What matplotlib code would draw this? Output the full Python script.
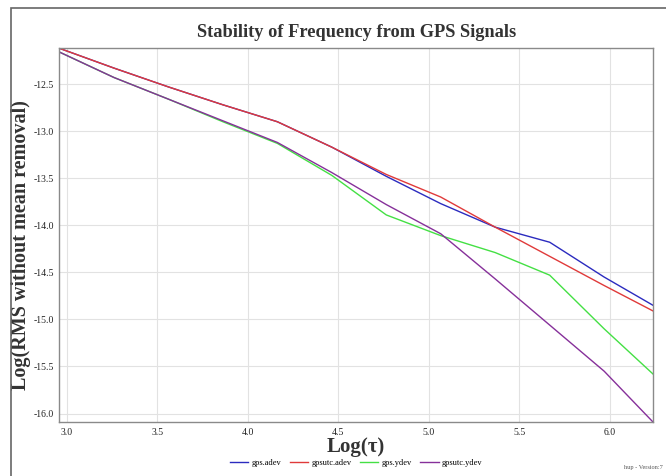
import matplotlib
matplotlib.use("Agg")
import matplotlib.pyplot as plt
from matplotlib.patches import Rectangle

plt.rcParams['font.family'] = ['Liberation Serif', 'DejaVu Serif']

# log10(tau)
log_tau = [2.96, 3.261, 3.562, 3.863, 4.164, 4.465, 4.766, 5.067, 5.368, 5.669, 5.97, 6.24]

gps_adev = [-12.12, -12.33, -12.53, -12.72, -12.90, -13.17, -13.48, -13.77, -14.02, -14.18, -14.55, -14.85]
gpsutc_adev = [-12.12, -12.33, -12.53, -12.72, -12.90, -13.17, -13.46, -13.70, -14.02, -14.33, -14.64, -14.91]
gps_ydev = [-12.16, -12.43, -12.66, -12.90, -13.13, -13.47, -13.89, -14.11, -14.29, -14.53, -15.10, -15.58]
gpsutc_ydev = [-12.16, -12.43, -12.66, -12.89, -13.12, -13.44, -13.78, -14.09, -14.57, -15.06, -15.55, -16.09]

series = [("gps.adev", gps_adev, "#2b2bbf"),
          ("gpsutc.adev", gpsutc_adev, "#e03a3a"),
          ("gps.ydev", gps_ydev, "#44e044"),
          ("gpsutc.ydev", gpsutc_ydev, "#86309a")]

xticks = [3.0, 3.5, 4.0, 4.5, 5.0, 5.5, 6.0]
yticks = [-12.5, -13.0, -13.5, -14.0, -14.5, -15.0, -15.5, -16.0]

fig = plt.figure(figsize=(6.66, 4.76), dpi=100)
ax = fig.add_axes([0.0893, 0.1134, 0.8912, 0.7851])

for name, vals, col in series:
    ax.plot(log_tau, vals, color=col, lw=1.0, label=name)

ax.set_xlim(min(log_tau), max(log_tau))
ax.set_ylim(min(gpsutc_ydev), max(gps_adev))
ax.set_xticks(xticks)
ax.set_yticks(yticks)
ax.set_xticklabels(["%.1f" % t for t in xticks])
ax.set_yticklabels(["%.1f" % t for t in yticks])
ax.tick_params(length=0, labelsize=7, pad=4, colors="#222222")
ax.grid(True, color="#e2e2e2", lw=0.8)
for s in ax.spines.values():
    s.set_color("#8a8a8a")
    s.set_linewidth(1.0)

ax.set_title("Stability of Frequency from GPS Signals", fontsize=13.2, fontweight="bold",
             color="#333333", pad=8)
ax.set_ylabel("Log(RMS without mean removal)", fontsize=14.5, fontweight="bold", color="#333333")
ax.yaxis.set_label_coords(-0.048, 0.474)
ax.set_xlabel("Log(\u03c4)", fontsize=15, fontweight="bold", color="#333333")
ax.xaxis.set_label_coords(0.5, -0.039)

fig.legend(loc="center", bbox_to_anchor=(0.535, 0.027), ncol=4, frameon=False,
           fontsize=6, handlelength=2.2, columnspacing=1.0, handletextpad=0.4)

fig.text(0.995, 0.012, "hup - Version:7", fontsize=4.5, ha="right", va="bottom", color="#555555")

fig.patches.append(Rectangle((11 / 666, -0.1), 1.2, 1.1 - 8 / 476, transform=fig.transFigure,
                             fill=False, edgecolor="#666666", lw=1.2))

fig.savefig("out.png", dpi=100)
